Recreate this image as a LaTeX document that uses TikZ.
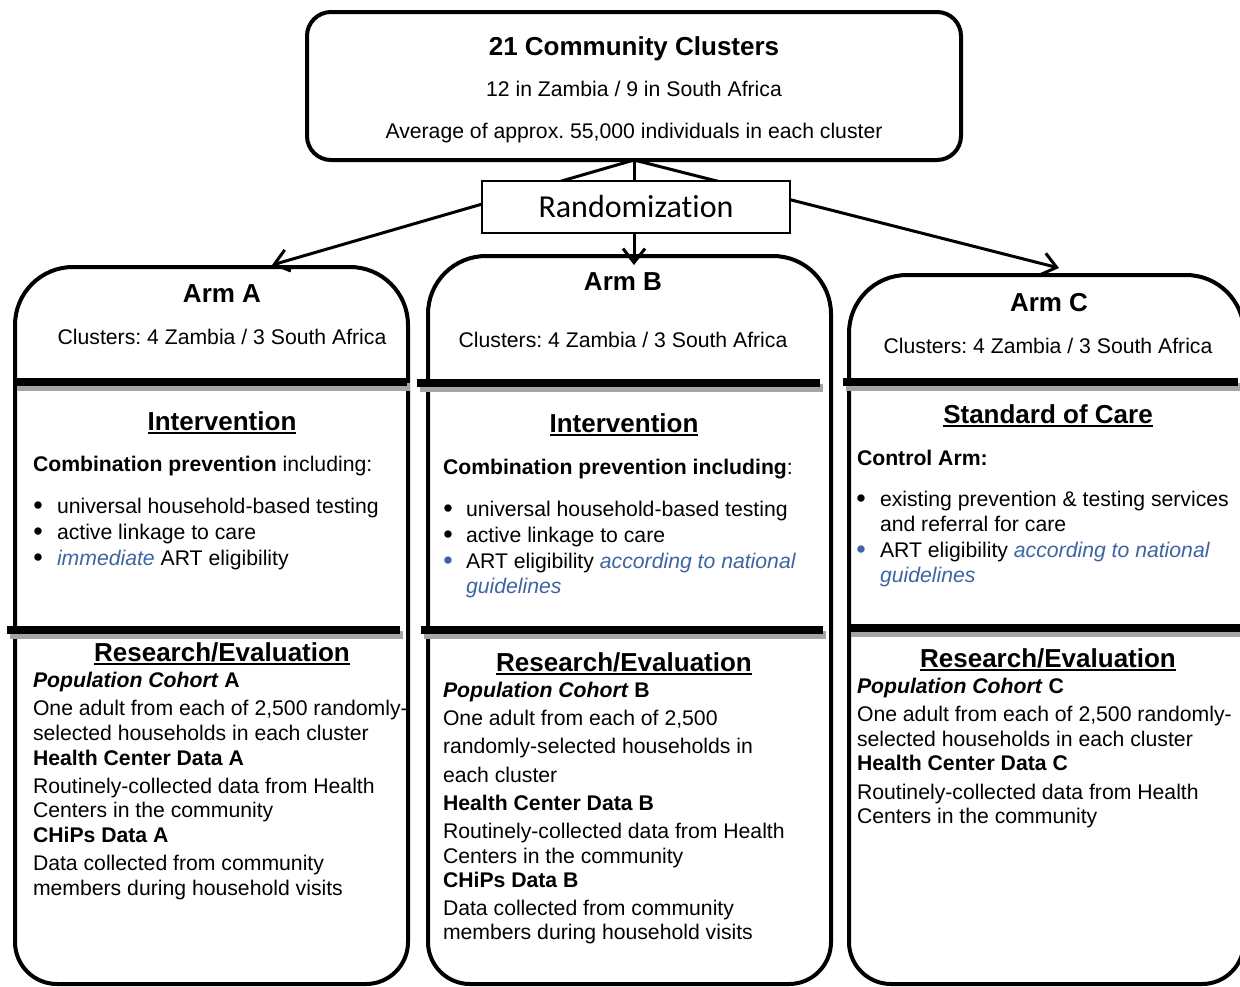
\documentclass[tikz,border=0pt]{standalone}
\usepackage{fontspec}
\setmainfont{Liberation Sans}
\newfontfamily\randfont[Ligatures=NoCommon]{Carlito}
\usetikzlibrary{arrows.meta}
\definecolor{artblue}{RGB}{62,100,162}
\definecolor{shadowgray}{RGB}{165,165,165}
\frenchspacing
\newcommand\myul[1]{\leavevmode\vtop{\hbox{#1}\kern1.5pt\hrule height 2pt}}
\newcommand\divline[3]{%
  \draw[shadowgray,line width=8] (#1+3,#3+5) -- (#2+3,#3+5);
  \draw[black,line width=8] (#1,#3) -- (#2,#3);}
\begin{document}
\begin{tikzpicture}[x=1pt,y=-1pt,
  txt/.style={font=\fontsize{21.2}{25}\selectfont\frenchspacing, inner sep=0, outer sep=0, anchor=base west},
  ctxt/.style={font=\fontsize{21.2}{25}\selectfont\frenchspacing, inner sep=0, outer sep=0, anchor=base},
  head/.style={font=\fontsize{26}{30}\selectfont\bfseries, inner sep=0, outer sep=0, anchor=base},
  armline/.style={line width=4, line join=round},
  arr/.style={line width=3, -{Straight Barb[length=14, width=22, line width=3]}},
  bul/.style={font=\fontsize{27}{30}\selectfont, inner sep=0, outer sep=0, anchor=base},
  bbul/.style={bul, text=artblue}]
\useasboundingbox (0,0) rectangle (1240,986);
\clip (0,0) rectangle (1240,986);

% top box
\node[draw, line width=4, rounded corners=24, minimum width=654, minimum height=148, inner sep=0, outer sep=0] (top) at (634,86) {};
\node[head] (toptitle) at (634,55) {21 Community Clusters};
\node[ctxt] (topl1) at (634,96) {12 in Zambia / 9 in South Africa};
\node[ctxt] (topl2) at (634,138) {Average of approx. 55,000 individuals in each cluster};

% arm boxes
\draw[armline] (15,600) [rounded corners=58] -- (15,267) -- (408,267) -- (408,600) [rounded corners=42] -- (408,984) -- (15,984) -- cycle;
\draw[armline] (428,600) [rounded corners=58] -- (428,256) -- (831,256) -- (831,600) [rounded corners=42] -- (831,984) -- (428,984) -- cycle;
\draw[armline] (849,600) [rounded corners=58] -- (849,275) -- (1244,275) -- (1244,600) [rounded corners=42] -- (1244,984) -- (849,984) -- cycle;

% dividers
\divline{14}{407}{382}
\divline{417}{820}{383}
\divline{843}{1238}{382}
\divline{7}{400}{630}
\divline{421}{823}{630}
\divline{848}{1240}{628}

% connectors
\coordinate (tipA) at (272,265);
\coordinate (tipB) at (634,265);
\coordinate (tipC) at (1059,268);
\draw[arr] (top.south) -- (tipA);
\draw[arr] (top.south) -- (tipB);
\draw[arr] (top.south) -- (tipC);
\node[draw, line width=2, fill=white, minimum width=308, minimum height=52, inner sep=0, outer sep=0, font=\randfont\fontsize{32}{36}\selectfont] (rand) at (636,207) {\raisebox{-3pt}{Randomization}};

% Arm A
\node[head] (armAt) at (222,302) {Arm A};
\node[ctxt] (armAc) at (222,344) {Clusters: 4 Zambia / 3 South Africa};
\node[head] (armAi) at (222,430) {\myul{Intervention}};
\node[txt] (armAcp) at (33,471) {\textbf{Combination prevention} including:};
\node[bul] (armAb1) at (38,514) {•};
\node[txt] (armAl1) at (57,513) {universal household-based testing};
\node[bul] (armAb2) at (38,540) {•};
\node[txt] (armAl2) at (57,539) {active linkage to care};
\node[bul] (armAb3) at (38,566) {•};
\node[txt] (armAl3) at (57,565) {\textcolor{artblue}{\textit{immediate}} ART eligibility};
\node[head] (armAre) at (222,661) {\myul{Research/Evaluation}};
\node[txt] (armAp) at (33,687) {\textbf{\textit{Population Cohort} A}};
\node[txt] (armAr1) at (33,715) {One adult from each of 2,500 randomly-};
\node[txt] (armAr2) at (33,740) {selected households in each cluster};
\node[txt] (armAh) at (33,765) {\textbf{Health Center Data A}};
\node[txt] (armAr3) at (33,793) {Routinely-collected data from Health};
\node[txt] (armAr4) at (33,817) {Centers in the community};
\node[txt] (armAch) at (33,842) {\textbf{CHiPs Data A}};
\node[txt] (armAr5) at (33,870) {Data collected from community};
\node[txt] (armAr6) at (33,895) {members during household visits};

% Arm B
\node[head] (armBt) at (623,290) {Arm B};
\node[ctxt] (armBc) at (623,347) {Clusters: 4 Zambia / 3 South Africa};
\node[head] (armBi) at (624,432) {\myul{Intervention}};
\node[txt] (armBcp) at (443,474) {\textbf{Combination prevention including}:};
\node[bul] (armBb1) at (448,517) {•};
\node[txt] (armBl1) at (466,516) {universal household-based testing};
\node[bul] (armBb2) at (448,543) {•};
\node[txt] (armBl2) at (466,542) {active linkage to care};
\node[bbul] (armBb3) at (448,569) {•};
\node[txt] (armBl3) at (466,568) {ART eligibility \textcolor{artblue}{\textit{according to national}}};
\node[txt] (armBl4) at (466,593) {\textcolor{artblue}{\textit{guidelines}}};
\node[head] (armBre) at (624,671) {\myul{Research/Evaluation}};
\node[txt] (armBp) at (443,697) {\textbf{\textit{Population Cohort} B}};
\node[txt] (armBr1) at (443,725) {One adult from each of 2,500};
\node[txt] (armBr2) at (443,753) {randomly-selected households in};
\node[txt] (armBr3) at (443,782) {each cluster};
\node[txt] (armBh) at (443,810) {\textbf{Health Center Data B}};
\node[txt] (armBr4) at (443,838) {Routinely-collected data from Health};
\node[txt] (armBr5) at (443,863) {Centers in the community};
\node[txt] (armBch) at (443,887) {\textbf{CHiPs Data B}};
\node[txt] (armBr6) at (443,915) {Data collected from community};
\node[txt] (armBr7) at (443,939) {members during household visits};

% Arm C
\node[head] (armCt) at (1049,311) {Arm C};
\node[ctxt] (armCc) at (1048,353) {Clusters: 4 Zambia / 3 South Africa};
\node[head] (armCs) at (1048,423) {\myul{Standard of Care}};
\node[txt] (armCca) at (857,465) {\textbf{Control Arm:}};
\node[bul] (armCb1) at (861,507) {•};
\node[txt] (armCl1) at (880,506) {existing prevention \& testing services};
\node[txt] (armCl2) at (880,531) {and referral for care};
\node[bbul] (armCb2) at (861,558) {•};
\node[txt] (armCl3) at (880,557) {ART eligibility \textcolor{artblue}{\textit{according to national}}};
\node[txt] (armCl4) at (880,582) {\textcolor{artblue}{\textit{guidelines}}};
\node[head] (armCre) at (1048,667) {\myul{Research/Evaluation}};
\node[txt] (armCp) at (857,693) {\textbf{\textit{Population Cohort} C}};
\node[txt] (armCr1) at (857,721) {One adult from each of 2,500 randomly-};
\node[txt] (armCr2) at (857,746) {selected households in each cluster};
\node[txt] (armCh) at (857,770) {\textbf{Health Center Data C}};
\node[txt] (armCr3) at (857,799) {Routinely-collected data from Health};
\node[txt] (armCr4) at (857,823) {Centers in the community};
\end{tikzpicture}
\end{document}
